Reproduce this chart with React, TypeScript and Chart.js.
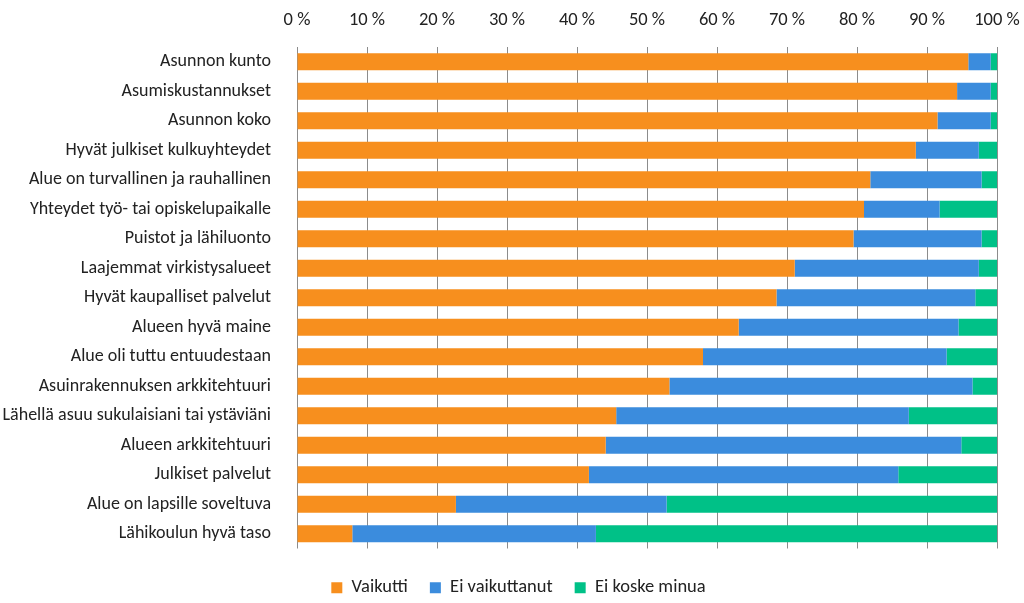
import React, { useEffect, useRef } from "react";
import { Chart, registerables } from "chart.js";

Chart.register(...registerables);

const categories = [
  "Asunnon kunto",
  "Asumiskustannukset",
  "Asunnon koko",
  "Hyvät julkiset kulkuyhteydet",
  "Alue on turvallinen ja rauhallinen",
  "Yhteydet työ- tai opiskelupaikalle",
  "Puistot ja lähiluonto",
  "Laajemmat virkistysalueet",
  "Hyvät kaupalliset palvelut",
  "Alueen hyvä maine",
  "Alue oli tuttu entuudestaan",
  "Asuinrakennuksen arkkitehtuuri",
  "Lähellä asuu sukulaisiani tai ystäviäni",
  "Alueen arkkitehtuuri",
  "Julkiset palvelut",
  "Alue on lapsille soveltuva",
  "Lähikoulun hyvä taso",
];

const vaikutti = [95.9, 94.3, 91.5, 88.4, 81.9, 81.0, 79.5, 71.1, 68.5, 63.1, 58.0, 53.2, 45.6, 44.1, 41.7, 22.7, 7.9];
const eiVaikuttanut = [3.2, 4.8, 7.6, 9.0, 15.9, 10.8, 18.3, 26.3, 28.4, 31.4, 34.8, 43.3, 41.8, 50.8, 44.2, 30.1, 34.8];
const eiKoske = [0.9, 0.9, 0.9, 2.6, 2.2, 8.2, 2.2, 2.6, 3.1, 5.5, 7.2, 3.5, 12.6, 5.1, 14.1, 47.2, 57.3];

const xTicks = [0, 10, 20, 30, 40, 50, 60, 70, 80, 90, 100];

const FONT = "Carlito, 'Liberation Sans', sans-serif";

const legendShift = {
  id: "legendShift",
  afterLayout(chart: any) {
    const lg = chart.legend;
    if (!lg) return;
    lg.top += 8;
    lg.bottom += 8;
    lg.left += 20;
    lg.right += 20;
  },
};

export default function App() {
  const ref = useRef<HTMLCanvasElement>(null);
  useEffect(() => {
    if (!ref.current) return;
    const chart = new Chart(ref.current, {
      type: "bar",
      data: {
        labels: categories,
        datasets: [
          { label: "Vaikutti", data: vaikutti, backgroundColor: "#F78F1E" },
          { label: "Ei vaikuttanut", data: eiVaikuttanut, backgroundColor: "#3B8CDD" },
          { label: "Ei koske minua", data: eiKoske, backgroundColor: "#00C187" },
        ],
      },
      plugins: [legendShift],
      options: {
        indexAxis: "y",
        animation: false,
        responsive: true,
        maintainAspectRatio: false,
        datasets: { bar: { categoryPercentage: 0.58, barPercentage: 1 } },
        layout: { padding: { left: 0, right: 27, top: 0, bottom: 4 } },
        scales: {
          x: {
            position: "top",
            stacked: true,
            min: 0,
            max: 100,
            afterBuildTicks: (s: any) => {
              s.ticks = xTicks.map((v) => ({ value: v }));
            },
            afterFit: (s: any) => {
              s.height = 47;
              s.paddingLeft = 0;
              s.paddingRight = 0;
            },
            border: { display: false },
            grid: { color: "#8c8c8c", lineWidth: 1, tickLength: 0, drawTicks: false },
            ticks: {
              padding: 16,
              color: "#222",
              font: { family: FONT, size: 18.5 },
              callback: (v: any) => v + " %",
            },
          },
          y: {
            stacked: true,
            afterFit: (s: any) => {
              s.width = 297;
              s.paddingTop = 0;
              s.paddingBottom = 0;
            },
            border: { display: false },
            grid: { display: false },
            ticks: {
              padding: 18,
              color: "#222",
              font: { family: FONT, size: 18 },
            },
          },
        },
        plugins: {
          tooltip: { enabled: false },
          legend: {
            position: "bottom",
            labels: {
              boxWidth: 11,
              boxHeight: 11,
              padding: 22,
              color: "#222",
              font: { family: FONT, size: 18.5 },
            },
          },
        },
      },
    });
    return () => chart.destroy();
  }, []);
  return (
    <div style={{ position: "fixed", left: 0, top: 0, width: 1024, height: 603, background: "#fff" }}>
      <canvas ref={ref} />
    </div>
  );
}
